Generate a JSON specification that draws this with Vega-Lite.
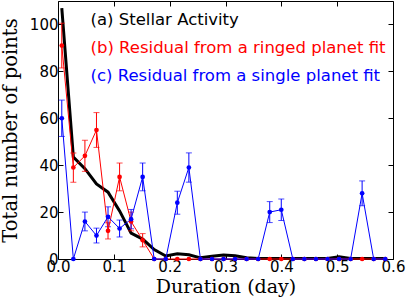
{
  "$schema": "https://vega.github.io/schema/vega-lite/v6.json",
  "width": 335,
  "height": 258,
  "autosize": {"type": "none"},
  "padding": {"left": 58, "top": 1, "right": 14, "bottom": 46},
  "config": {
    "view": {"stroke": "black", "strokeWidth": 1},
    "axis": {
      "domain": false, "grid": false, "ticks": true, "labelFlush": false, "labelOverlap": false,
      "tickColor": "black", "tickWidth": 1, "tickSize": -5,
      "labelColor": "black", "labelFont": "DejaVu Sans", "labelFontSize": 15,
      "titleFont": "DejaVu Serif", "titleFontSize": 19, "titleFontWeight": "normal", "titleColor": "black"
    }
  },
  "data": {"values": [
    {"series": "(a) Stellar Activity", "x": 0.0068, "y": 107},
    {"series": "(a) Stellar Activity", "x": 0.0275, "y": 43.5},
    {"series": "(a) Stellar Activity", "x": 0.0482, "y": 38.5},
    {"series": "(a) Stellar Activity", "x": 0.0689, "y": 32},
    {"series": "(a) Stellar Activity", "x": 0.0896, "y": 28.5},
    {"series": "(a) Stellar Activity", "x": 0.1103, "y": 20.5},
    {"series": "(a) Stellar Activity", "x": 0.1309, "y": 11},
    {"series": "(a) Stellar Activity", "x": 0.1516, "y": 8.5},
    {"series": "(a) Stellar Activity", "x": 0.1723, "y": 4},
    {"series": "(a) Stellar Activity", "x": 0.1930, "y": 1.3},
    {"series": "(a) Stellar Activity", "x": 0.2137, "y": 2.2},
    {"series": "(a) Stellar Activity", "x": 0.2344, "y": 1.8},
    {"series": "(a) Stellar Activity", "x": 0.2551, "y": 0.5},
    {"series": "(a) Stellar Activity", "x": 0.2758, "y": 1.2},
    {"series": "(a) Stellar Activity", "x": 0.2965, "y": 1.7},
    {"series": "(a) Stellar Activity", "x": 0.3172, "y": 1.4},
    {"series": "(a) Stellar Activity", "x": 0.3378, "y": 0.5},
    {"series": "(a) Stellar Activity", "x": 0.3585, "y": 0.2},
    {"series": "(a) Stellar Activity", "x": 0.3792, "y": 0.2},
    {"series": "(a) Stellar Activity", "x": 0.3999, "y": 0.2},
    {"series": "(a) Stellar Activity", "x": 0.4206, "y": 0.2},
    {"series": "(a) Stellar Activity", "x": 0.4413, "y": 0.2},
    {"series": "(a) Stellar Activity", "x": 0.4620, "y": 0.2},
    {"series": "(a) Stellar Activity", "x": 0.4827, "y": 0.2},
    {"series": "(a) Stellar Activity", "x": 0.5034, "y": 0.9},
    {"series": "(a) Stellar Activity", "x": 0.5241, "y": 0.2},
    {"series": "(a) Stellar Activity", "x": 0.5447, "y": 0.2},
    {"series": "(a) Stellar Activity", "x": 0.5654, "y": 0.2},
    {"series": "(a) Stellar Activity", "x": 0.5861, "y": 0.2},

    {"series": "(b) Residual from a ringed planet fit", "x": 0.0068, "y": 91, "lo": 81.46, "hi": 100.54},
    {"series": "(b) Residual from a ringed planet fit", "x": 0.0275, "y": 39, "lo": 32.76, "hi": 45.24},
    {"series": "(b) Residual from a ringed planet fit", "x": 0.0482, "y": 44, "lo": 37.37, "hi": 50.63},
    {"series": "(b) Residual from a ringed planet fit", "x": 0.0689, "y": 55, "lo": 47.58, "hi": 62.42},
    {"series": "(b) Residual from a ringed planet fit", "x": 0.0896, "y": 12, "lo": 8.54, "hi": 15.46},
    {"series": "(b) Residual from a ringed planet fit", "x": 0.1103, "y": 35, "lo": 29.08, "hi": 40.92},
    {"series": "(b) Residual from a ringed planet fit", "x": 0.1309, "y": 16, "lo": 12, "hi": 20},
    {"series": "(b) Residual from a ringed planet fit", "x": 0.1516, "y": 8, "lo": 5.17, "hi": 10.83},
    {"series": "(b) Residual from a ringed planet fit", "x": 0.1723, "y": 0},
    {"series": "(b) Residual from a ringed planet fit", "x": 0.1930, "y": 0},
    {"series": "(b) Residual from a ringed planet fit", "x": 0.2137, "y": 0},
    {"series": "(b) Residual from a ringed planet fit", "x": 0.2344, "y": 0},
    {"series": "(b) Residual from a ringed planet fit", "x": 0.2551, "y": 0},
    {"series": "(b) Residual from a ringed planet fit", "x": 0.2758, "y": 0},
    {"series": "(b) Residual from a ringed planet fit", "x": 0.2965, "y": 0},
    {"series": "(b) Residual from a ringed planet fit", "x": 0.3172, "y": 0},
    {"series": "(b) Residual from a ringed planet fit", "x": 0.3378, "y": 0},
    {"series": "(b) Residual from a ringed planet fit", "x": 0.3585, "y": 0},
    {"series": "(b) Residual from a ringed planet fit", "x": 0.3792, "y": 0},
    {"series": "(b) Residual from a ringed planet fit", "x": 0.3999, "y": 0},
    {"series": "(b) Residual from a ringed planet fit", "x": 0.4206, "y": 0},
    {"series": "(b) Residual from a ringed planet fit", "x": 0.4413, "y": 0},
    {"series": "(b) Residual from a ringed planet fit", "x": 0.4620, "y": 0},
    {"series": "(b) Residual from a ringed planet fit", "x": 0.4827, "y": 0},
    {"series": "(b) Residual from a ringed planet fit", "x": 0.5034, "y": 0},
    {"series": "(b) Residual from a ringed planet fit", "x": 0.5241, "y": 0},
    {"series": "(b) Residual from a ringed planet fit", "x": 0.5447, "y": 0},
    {"series": "(b) Residual from a ringed planet fit", "x": 0.5654, "y": 0},
    {"series": "(b) Residual from a ringed planet fit", "x": 0.5861, "y": 0},

    {"series": "(c) Residual from a single planet fit", "x": 0.0068, "y": 60, "lo": 52.25, "hi": 67.75},
    {"series": "(c) Residual from a single planet fit", "x": 0.0275, "y": 0},
    {"series": "(c) Residual from a single planet fit", "x": 0.0482, "y": 16, "lo": 12, "hi": 20},
    {"series": "(c) Residual from a single planet fit", "x": 0.0689, "y": 10, "lo": 6.84, "hi": 13.16},
    {"series": "(c) Residual from a single planet fit", "x": 0.0896, "y": 18, "lo": 13.76, "hi": 22.24},
    {"series": "(c) Residual from a single planet fit", "x": 0.1103, "y": 13, "lo": 9.39, "hi": 16.61},
    {"series": "(c) Residual from a single planet fit", "x": 0.1309, "y": 17, "lo": 12.88, "hi": 21.12},
    {"series": "(c) Residual from a single planet fit", "x": 0.1516, "y": 35, "lo": 29.08, "hi": 40.92},
    {"series": "(c) Residual from a single planet fit", "x": 0.1723, "y": 0},
    {"series": "(c) Residual from a single planet fit", "x": 0.1930, "y": 0},
    {"series": "(c) Residual from a single planet fit", "x": 0.2137, "y": 24, "lo": 19.1, "hi": 28.9},
    {"series": "(c) Residual from a single planet fit", "x": 0.2344, "y": 39, "lo": 32.76, "hi": 45.24},
    {"series": "(c) Residual from a single planet fit", "x": 0.2551, "y": 0},
    {"series": "(c) Residual from a single planet fit", "x": 0.2758, "y": 0},
    {"series": "(c) Residual from a single planet fit", "x": 0.2965, "y": 0},
    {"series": "(c) Residual from a single planet fit", "x": 0.3172, "y": 0},
    {"series": "(c) Residual from a single planet fit", "x": 0.3378, "y": 0},
    {"series": "(c) Residual from a single planet fit", "x": 0.3585, "y": 0},
    {"series": "(c) Residual from a single planet fit", "x": 0.3792, "y": 20, "lo": 15.53, "hi": 24.47},
    {"series": "(c) Residual from a single planet fit", "x": 0.3999, "y": 21, "lo": 16.42, "hi": 25.58},
    {"series": "(c) Residual from a single planet fit", "x": 0.4206, "y": 0},
    {"series": "(c) Residual from a single planet fit", "x": 0.4413, "y": 0},
    {"series": "(c) Residual from a single planet fit", "x": 0.4620, "y": 0},
    {"series": "(c) Residual from a single planet fit", "x": 0.4827, "y": 0},
    {"series": "(c) Residual from a single planet fit", "x": 0.5034, "y": 0},
    {"series": "(c) Residual from a single planet fit", "x": 0.5241, "y": 0},
    {"series": "(c) Residual from a single planet fit", "x": 0.5447, "y": 28, "lo": 22.71, "hi": 33.29},
    {"series": "(c) Residual from a single planet fit", "x": 0.5654, "y": 0},
    {"series": "(c) Residual from a single planet fit", "x": 0.5861, "y": 0}
  ]},
  "encoding": {
    "color": {
      "field": "series", "type": "nominal",
      "scale": {
        "domain": ["(a) Stellar Activity", "(b) Residual from a ringed planet fit", "(c) Residual from a single planet fit"],
        "range": ["#000000", "#ff0000", "#0000ff"]
      },
      "legend": {
        "orient": "none", "legendX": 16, "legendY": 10.5, "title": null,
        "symbolOpacity": 0, "symbolSize": 0, "symbolStrokeWidth": 0,
        "labelFont": "DejaVu Sans", "labelFontSize": 16.5, "labelOffset": 0,
        "padding": 0, "rowPadding": 11, "labelLimit": 400,
        "encode": {"labels": {"update": {"fill": {"scale": "color", "field": "value"}}}}
      }
    }
  },
  "layer": [
    {
      "transform": [{"filter": "datum.series == '(a) Stellar Activity'"}],
      "mark": {"type": "line", "strokeWidth": 3, "clip": true},
      "encoding": {
        "x": {"field": "x", "type": "quantitative",
          "scale": {"domain": [0, 0.6], "nice": false, "zero": false},
          "axis": {"orient": "bottom", "values": [0, 0.1, 0.2, 0.3, 0.4, 0.5, 0.6], "format": ".1f", "title": "Duration (day)", "labelPadding": 5, "titlePadding": 3}},
        "y": {"field": "y", "type": "quantitative",
          "scale": {"domain": [0, 110], "nice": false, "zero": false},
          "axis": {"orient": "left", "values": [0, 20, 40, 60, 80, 100], "title": "Total number of points", "labelPadding": 5, "titlePadding": 9, "titleFontSize": 19.5}}
      }
    },
    {
      "transform": [{"filter": "isValid(datum.lo)"}],
      "mark": {"type": "errorbar", "ticks": {"size": 6}, "thickness": 1},
      "encoding": {
        "x": {"field": "x", "type": "quantitative", "scale": {"domain": [0, 0.6], "nice": false, "zero": false}, "axis": null},
        "y": {"field": "lo", "type": "quantitative", "scale": {"domain": [0, 110], "nice": false, "zero": false}, "axis": null},
        "y2": {"field": "hi"}
      }
    },
    {
      "transform": [{"filter": "datum.series != '(a) Stellar Activity'"}],
      "mark": {"type": "line", "strokeWidth": 1, "point": {"filled": true, "size": 22}},
      "encoding": {
        "x": {"field": "x", "type": "quantitative",
          "scale": {"domain": [0, 0.6], "nice": false, "zero": false},
          "axis": {"orient": "top", "values": [0, 0.1, 0.2, 0.3, 0.4, 0.5, 0.6], "labels": false, "title": null}},
        "y": {"field": "y", "type": "quantitative",
          "scale": {"domain": [0, 110], "nice": false, "zero": false},
          "axis": {"orient": "right", "values": [0, 20, 40, 60, 80, 100], "labels": false, "title": null}}
      }
    }
  ],
  "resolve": {"scale": {"x": "independent", "y": "independent"}}
}
